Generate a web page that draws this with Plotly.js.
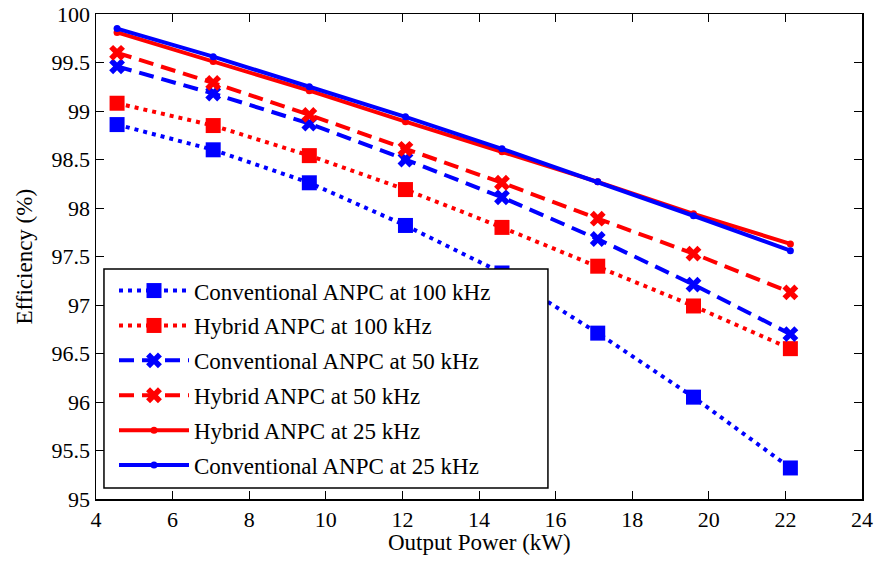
<!DOCTYPE html>
<html>
<head>
<meta charset="utf-8">
<script src="https://cdn.plot.ly/plotly-3.0.1.min.js"></script>
<style>html,body{margin:0;padding:0;background:#fff;}#chart{width:875px;height:563px;}</style>
</head>
<body>
<div id="chart"></div>
<script>
var power = [4.55, 7.06, 9.57, 12.08, 14.6, 17.1, 19.6, 22.13];
var conv100 = [98.86, 98.60, 98.26, 97.82, 97.33, 96.71, 96.05, 95.32];
var hyb100  = [99.08, 98.85, 98.54, 98.19, 97.80, 97.40, 96.99, 96.55];
var conv50  = [99.46, 99.18, 98.87, 98.50, 98.11, 97.68, 97.21, 96.70];
var hyb50   = [99.60, 99.29, 98.96, 98.61, 98.26, 97.89, 97.53, 97.13];
var hyb25   = [99.81, 99.51, 99.21, 98.89, 98.58, 98.27, 97.94, 97.63];
var conv25  = [99.85, 99.56, 99.25, 98.94, 98.61, 98.27, 97.92, 97.56];
var names = ['Conventional ANPC at 100 kHz','Hybrid ANPC at 100 kHz','Conventional ANPC at 50 kHz',
             'Hybrid ANPC at 50 kHz','Hybrid ANPC at 25 kHz','Conventional ANPC at 25 kHz'];
var xTitle = 'Output Power (kW)';
var yTitle = 'Efficiency (%)';

var BLUE = '#0000ff', RED = '#ff0000';
var FONT = "'Liberation Serif', 'Times New Roman', serif";

function tr(y, name, color, dash, symbol, msize, lw, gi) {
  return {
    x: power, y: y, name: name, type: 'scatter', mode: 'lines+markers',
    legendgroup: 'g' + gi,
    line: {color: color, width: lw, dash: dash},
    marker: {color: color, symbol: symbol, size: msize, line: {width: 0}}
  };
}
var data = [
  tr(conv100, names[0], BLUE, '4px,5px', 'square', 15, 4, 0),
  tr(hyb100, names[1], RED, '4px,5px', 'square', 15, 4, 1),
  tr(conv50, names[2], BLUE, '15px,8px', 'x', 14, 4, 2),
  tr(hyb50, names[3], RED, '15px,8px', 'x', 14, 4, 3),
  tr(hyb25, names[4], RED, 'solid', 'circle', 7, 4, 4),
  tr(conv25, names[5], BLUE, 'solid', 'circle', 7, 4, 5)
];

var layout = {
  width: 875, height: 563,
  margin: {l: 96, r: 13, t: 14, b: 64},
  paper_bgcolor: '#fff', plot_bgcolor: '#fff',
  font: {family: FONT, size: 22, color: '#000'},
  xaxis: {
    range: [4, 24], dtick: 2, tick0: 4,
    showgrid: false, zeroline: false,
    showline: true, mirror: 'ticks', linecolor: '#000', linewidth: 1.5,
    ticks: 'inside', ticklen: 8, tickwidth: 1, tickcolor: '#000',
    tickfont: {family: FONT, size: 22, color: '#000'}
  },
  yaxis: {
    range: [95, 100], dtick: 0.5, tick0: 95,
    showgrid: false, zeroline: false,
    showline: true, mirror: 'ticks', linecolor: '#000', linewidth: 1.5,
    ticks: 'inside', ticklen: 8, tickwidth: 1, tickcolor: '#000',
    tickfont: {family: FONT, size: 22, color: '#000'}
  },
  annotations: [
    {text: xTitle, xref: 'paper', yref: 'paper', x: 0.5, y: -0.0907,
     xanchor: 'center', yanchor: 'middle', showarrow: false,
     font: {family: FONT, size: 23, color: '#000'}},
    {text: yTitle, xref: 'paper', yref: 'paper', x: -0.0927, y: 0.5, textangle: -90,
     xanchor: 'center', yanchor: 'middle', showarrow: false,
     font: {family: FONT, size: 23, color: '#000'}}
  ],
  shapes: [{
    type: 'rect', xref: 'paper', yref: 'paper', layer: 'above',
    x0: 0.0104, x1: 0.590, y0: 0.0227, y1: 0.474,
    fillcolor: '#fff', line: {color: '#000', width: 1.5}
  }],
  showlegend: true,
  legend: {
    x: 0.0235, y: 0.474, xanchor: 'left', yanchor: 'top',
    bgcolor: 'rgba(0,0,0,0)', borderwidth: 0,
    font: {family: FONT, size: 23, color: '#000'},
    tracegroupgap: 2, itemwidth: 70, traceorder: 'grouped'
  }
};
Plotly.newPlot('chart', data, layout, {displayModeBar: false, staticPlot: true});
</script>
</body>
</html>
